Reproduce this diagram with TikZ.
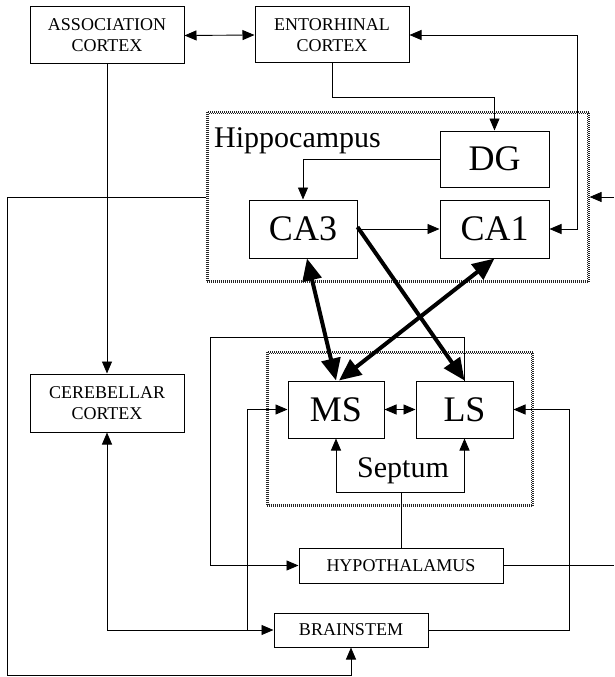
\documentclass[tikz,border=0pt]{standalone}
\usepackage{fontspec}
\setmainfont{Liberation Serif}
\usetikzlibrary{arrows.meta}

\tikzset{
  unit/.style={draw, line width=1pt, inner sep=0pt, align=center, font=\fontsize{18}{21}\selectfont},
  region/.style={draw, line width=1pt, inner sep=0pt, font=\fontsize{36}{40}\selectfont},
  frame/.style={draw=black!85, dash pattern=on 1pt off 1pt, line width=1.1pt, inner sep=0pt},
  caption/.style={inner sep=0pt, anchor=base, font=\fontsize{30}{32}\selectfont},
  wire/.style={line width=0.9pt},
  link/.style={wire, -{Triangle[length=12pt,width=10pt]}},
  link2/.style={wire, {Triangle[length=12pt,width=10pt]}-{Triangle[length=12pt,width=10pt]}},
  bold/.style={line width=4pt, -{Triangle[length=22pt,width=19pt]}},
  bold2/.style={line width=4pt, {Triangle[length=22pt,width=19pt]}-{Triangle[length=22pt,width=19pt]}}
}

\begin{document}
\begin{tikzpicture}[x=1pt, y=-1pt]
  \useasboundingbox (0,0) rectangle (614,677);

  % frames of hippocampus and septum (drawn twice, one inside the other)
  \node[frame, minimum width=382pt, minimum height=170pt] (hippo) at (398,197) {};
  \draw[frame] ([shift={(2.4,2.4)}]hippo.north west) rectangle ([shift={(-2.4,-2.4)}]hippo.south east);
  \node[frame, minimum width=266pt, minimum height=154pt] (septum) at (400,429) {};
  \draw[frame] ([shift={(2.4,2.4)}]septum.north west) rectangle ([shift={(-2.4,-2.4)}]septum.south east);
  \node[caption, anchor=base west] (hippolabel) at (214,147) {Hippocampus};
  \node[caption] (septlabel) at (403,477) {Septum};

  % cortex and brain stem boxes
  \node[unit, minimum width=154pt, minimum height=57pt] (assoc) at (107,35.5) {ASSOCIATION\\CORTEX};
  \node[unit, minimum width=154pt, minimum height=56pt] (ento) at (332,35) {ENTORHINAL\\CORTEX};
  \node[unit, minimum width=154pt, minimum height=58pt] (cereb) at (107,403) {CEREBELLAR\\CORTEX};
  \node[unit, minimum width=204pt, minimum height=35pt] (hypo) at (401,565.5) {HYPOTHALAMUS};
  \node[unit, minimum width=154pt, minimum height=34pt] (brain) at (351,630) {BRAINSTEM};

  % regions
  \node[region, minimum width=109pt, minimum height=56pt] (dg) at (494.5,159) {DG};
  \node[region, minimum width=108pt, minimum height=58pt] (ca3) at (303,229) {CA3};
  \node[region, minimum width=109pt, minimum height=58pt] (ca1) at (494.5,229) {CA1};
  \node[region, minimum width=96pt, minimum height=57pt] (ms) at (336,409.5) {MS};
  \node[region, minimum width=97pt, minimum height=57pt] (ls) at (464.5,409.5) {LS};

  % loose ends at the right border
  \coordinate (hippoin) at (614,197);
  \coordinate (hypoout) at (614,565.5);
  \coordinate (bsjoin) at (247,630);

  % thin connections
  \draw[link2] (assoc.east) -- (ento.west);
  \draw[link2] (ento.east) -- ++(168,0) |- (ca1.east);
  \draw[link] (ento.south) -- ++(0,34) -| (dg.north);
  \draw[link] (dg.west) -| (ca3.north);
  \draw[link] (ca3.east) -- (ca1.west);
  \draw[link] (hippo.west) -| (7,675) -| (brain.south);
  \draw[link] (hippoin) -- (hippo.east);
  \draw[link] (assoc.south) -- (cereb.north);
  \draw[link2] (brain.west) -| (cereb.south);
  \draw[link] (bsjoin) |- (ms.west);
  \draw[link] (brain.east) -- ++(141,0) |- (ls.east);
  \draw[link2] (ms.east) -- (ls.west);
  \draw[link] (hypo.north) -- ++(0,-55) -| (ms.south);
  \draw[link] (hypo.north) -- ++(0,-55) -| (ls.south);
  \draw[link] (ls.north) |- (210,337) |- (hypo.west);
  \draw[wire] (hypo.east) -- (hypoout);

  % thick connections
  \draw[bold2] ([xshift=4pt]ca3.south) -- (ms.north);
  \draw[bold2] (ca1.south) -- ([xshift=3pt]ms.north);
  \draw[bold] ([yshift=2pt]ca3.east) -- (ls.north);
\end{tikzpicture}
\end{document}
